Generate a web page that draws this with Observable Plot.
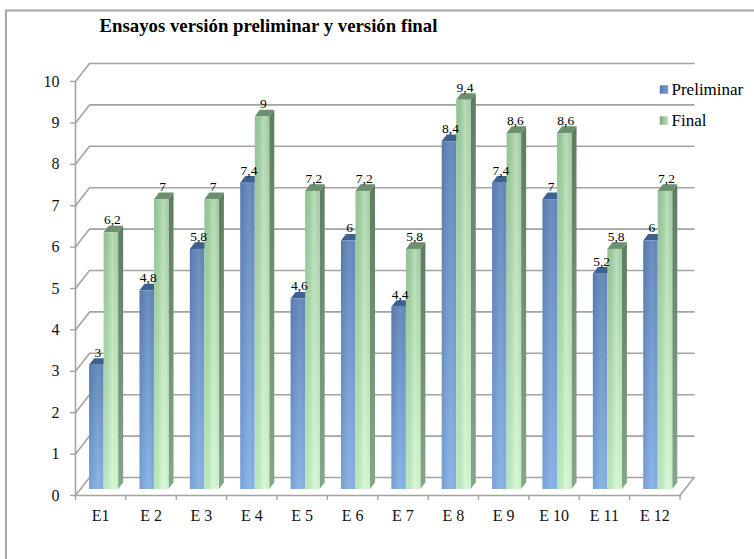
<!DOCTYPE html>
<html><head><meta charset="utf-8">
<script src="https://cdn.jsdelivr.net/npm/d3@7"></script>
<script src="https://cdn.jsdelivr.net/npm/@observablehq/plot@0.6"></script>
<style>html,body{margin:0;padding:0;background:#fff}svg{display:block}</style>
</head><body><div id="chart"></div>
<script>
const categories = ["E1","E 2","E 3","E 4","E 5","E 6","E 7","E 8","E 9","E 10","E 11","E 12"];
const preliminar = [3,4.8,5.8,7.4,4.6,6,4.4,8.4,7.4,7,5.2,6];
const final_ = [6.2,7,7,9,7.2,7.2,5.8,9.4,8.6,8.6,5.8,7.2];
const seriesNames = ["Preliminar","Final"];
const yTicks = [0,1,2,3,4,5,6,7,8,9,10];
const title = "Ensayos versión preliminar y versión final";
const FONT = "'Liberation Serif', serif";
const GRAY = "#a3a3a3";

// 3D depth, in scale units
const wallDx = 0.278, wallDy = 0.435, barDx = 0.1, barDy = 0.16, barBase = 0.145;
const barStart = 0.28, barW = 0.288;
const mLeft = 75, mTop = 81;

const idx = categories.map((_, i) => i);
const fmt = v => String(v).replace(".", ",");
const fronts = (vals, k) => idx.map(i => ({
  x1: i + barStart + k * barW, x2: i + barStart + (k + 1) * barW,
  y1: barBase, y2: vals[i] + barBase, v: vals[i]
}));
const capRows = b => [
  {id: b.x1, a: b.x1, b: b.x2, y: b.y2},
  {id: b.x1, a: b.x1 + barDx, b: b.x2 + barDx, y: b.y2 + barDy}
];
const sideRows = b => [
  {id: b.x1, x: b.x2, lo: b.y1, hi: b.y2},
  {id: b.x1, x: b.x2 + barDx, lo: b.y1 + barDy, hi: b.y2 + barDy}
];
const blue = fronts(preliminar, 0), green = fronts(final_, 1);
const grid = yTicks.flatMap(v => [
  {v, x: 0, y: v},
  {v, x: wallDx, y: v + wallDy},
  {v, x: categories.length + wallDx, y: v + wallDy}
]);

const defs = () => {
  const s = d3.create("svg:defs");
  const lg = (id, stops, vertical) => {
    const g = s.append("linearGradient").attr("id", id)
      .attr("x1", 0).attr("y1", 0).attr("x2", vertical ? 0 : 1).attr("y2", vertical ? 1 : 0);
    stops.forEach(([o, c, a]) => g.append("stop").attr("offset", o).attr("stop-color", c).attr("stop-opacity", a ?? 1));
  };
  lg("gBlue", [[0,"#5c80b6"],[1,"#80ade3"]], true);
  lg("gGreen", [[0,"#9ccb9c"],[1,"#c9f3c6"]], true);
  lg("gShade", [[0,"#1f3a5f",0.12],[0.6,"#ffffff",0.10],[1,"#ffffff",0.02]], false);
  lg("gShadeG", [[0,"#3f7f4f",0.10],[0.6,"#ffffff",0.30],[1,"#ffffff",0.0]], false);
  lg("gSide", [[0,"#5d7c60"],[1,"#86a68b"]], true);
  lg("gLegB", [[0,"#5a78b8"],[1,"#7f98cf"]], false);
  lg("gLegG", [[0,"#7f9f85"],[1,"#c3e8bf"]], false);
  return s.node();
};
const labelOpts = {lineAnchor: "bottom", fontSize: 13.5, fontFamily: FONT, fill: "#000", dx: 1, dy: -2};

const plot = Plot.plot({
  width: 754, height: 559,
  marginLeft: mLeft, marginTop: mTop, marginRight: 74.5, marginBottom: 64,
  style: {background: "#fff", fontFamily: FONT, overflow: "visible"},
  x: {type: "linear", domain: [0, categories.length]},
  y: {type: "linear", domain: [0, 10]},
  marks: [
    defs,
    // back wall grid
    Plot.line(grid, {x: "x", y: "y", z: "v", stroke: GRAY, strokeWidth: 1.6}),
    Plot.line([{x: categories.length, y: 0}, {x: categories.length + wallDx, y: wallDy}], {x: "x", y: "y", stroke: GRAY, strokeWidth: 1.6}),
    // blue bars
    Plot.area(blue.flatMap(capRows), {x1: "a", x2: "b", y1: "y", y2: "y", z: "id", fill: "#3f6190"}),
    Plot.rect(blue, {x1: "x1", x2: "x2", y1: "y1", y2: "y2", fill: "url(#gBlue)"}),
    Plot.rect(blue, {x1: "x1", x2: "x2", y1: "y1", y2: "y2", fill: "url(#gShade)"}),
    // green bars
    Plot.area(green.flatMap(sideRows), {x1: "x", x2: "x", y1: "lo", y2: "hi", z: "id", fill: "url(#gSide)"}),
    Plot.area(green.flatMap(capRows), {x1: "a", x2: "b", y1: "y", y2: "y", z: "id", fill: "#6c8f70"}),
    Plot.rect(green, {x1: "x1", x2: "x2", y1: "y1", y2: "y2", fill: "url(#gGreen)"}),
    Plot.rect(green, {x1: "x1", x2: "x2", y1: "y1", y2: "y2", fill: "url(#gShadeG)"}),
    // axes
    Plot.line([{x: 0, y: 10}, {x: 0, y: 0}, {x: categories.length, y: 0}], {x: "x", y: "y", stroke: GRAY, strokeWidth: 1.6}),
    Plot.axisY({ticks: yTicks, tickSize: 5, tickPadding: 11, stroke: GRAY, strokeWidth: 1.4, fill: "#111", fontSize: 16, fontFamily: FONT, label: null, tickFormat: d => d}),
    Plot.axisX({ticks: [...idx, categories.length], tickSize: 5, stroke: GRAY, strokeWidth: 1.4, tickFormat: () => "", label: null}),
    Plot.text(idx, {x: i => i + 0.5, y: 0, text: i => categories[i], fontSize: 16, fontFamily: FONT, fill: "#111", dy: 20}),
    // value labels
    Plot.text(blue, {x: d => (d.x1 + d.x2) / 2, y: d => d.y2 + barDy, text: d => fmt(d.v), ...labelOpts}),
    Plot.text(green, {x: d => (d.x1 + d.x2) / 2, y: d => d.y2 + barDy, text: d => fmt(d.v), ...labelOpts}),
    // title
    Plot.text([title], {frameAnchor: "top-left", lineAnchor: "middle", dx: 99 - mLeft, dy: 25 - mTop, text: d => d, textAnchor: "start", fontSize: 18.8, fontFamily: FONT, fontWeight: "bold", fill: "#000"}),
    // legend
    Plot.dot([seriesNames[0]], {frameAnchor: "top-left", dx: 663.5 - mLeft, dy: 89 - mTop, symbol: "square", r: 4.8, fill: "url(#gLegB)"}),
    Plot.dot([seriesNames[1]], {frameAnchor: "top-left", dx: 663.5 - mLeft, dy: 120 - mTop, symbol: "square", r: 4.8, fill: "url(#gLegG)"}),
    Plot.text([seriesNames[0]], {frameAnchor: "top-left", lineAnchor: "middle", dx: 671 - mLeft, dy: 89 - mTop, text: d => d, textAnchor: "start", fontSize: 17, fontFamily: FONT, fill: "#000"}),
    Plot.text([seriesNames[1]], {frameAnchor: "top-left", lineAnchor: "middle", dx: 671 - mLeft, dy: 120 - mTop, text: d => d, textAnchor: "start", fontSize: 17, fontFamily: FONT, fill: "#000"})
  ]
});
// page frame: top and left edges only
d3.select(plot).insert("path", ":first-child").attr("d", "M6,559V10.5H754").attr("fill", "none").attr("stroke", "#a6a6a6").attr("stroke-width", 2);
document.getElementById("chart").append(plot);
</script></body></html>
